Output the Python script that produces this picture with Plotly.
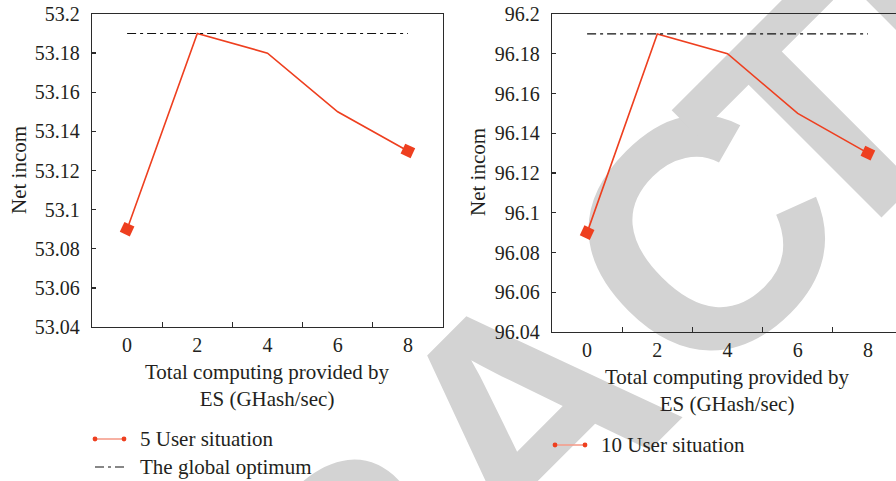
import plotly.graph_objects as go

# ---- data -------------------------------------------------------------
compute_es = [0, 2, 4, 6, 8]                      # GHash/sec provided by the ES
income_5_users = [53.09, 53.19, 53.18, 53.15, 53.13]
income_10_users = [96.09, 96.19, 96.18, 96.15, 96.13]
optimum_5_users = 53.19
optimum_10_users = 96.19

x_tick_vals = [0, 2, 4, 6, 8]
x_minor_ticks = [1, 3, 5, 7]
y_ticks_5 = [53.04, 53.06, 53.08, 53.10, 53.12, 53.14, 53.16, 53.18, 53.20]
y_ticks_10 = [96.04, 96.06, 96.08, 96.10, 96.12, 96.14, 96.16, 96.18, 96.20]
y_text_5 = ["53.04", "53.06", "53.08", "53.1", "53.12", "53.14", "53.16", "53.18", "53.2"]
y_text_10 = ["96.04", "96.06", "96.08", "96.1", "96.12", "96.14", "96.16", "96.18", "96.2"]

legend_5 = "5 User situation"
legend_10 = "10 User situation"
legend_opt = "The global optimum"
x_title = "Total computing provided by<br>ES (GHash/sec)"
y_title = "Net incom"
stamp = "RETRACTED"

# ---- style ------------------------------------------------------------
W, H = 896, 481
RED = "#ee3f1f"
RED_LIGHT = "#f59d8c"
INK = "#231f20"
AXIS = "#2b2b2b"
STAMP_GREY = "#d3d3d3"
SERIF = "Liberation Serif"
DASH = "9px,4px,3px,4px"


def px(x):
    return x / W


def py(y):
    return 1 - y / H


fig = go.Figure()


def end_marker_sizes(n, size=11):
    return [size if i in (0, n - 1) else 0 for i in range(n)]


# series traces
for xa, ya, vals, opt in (("x", "y", income_5_users, optimum_5_users),
                          ("x2", "y2", income_10_users, optimum_10_users)):
    fig.add_trace(go.Scatter(
        x=compute_es, y=vals, xaxis=xa, yaxis=ya, mode="lines+markers",
        line=dict(color=RED, width=1.6),
        marker=dict(symbol="square", size=end_marker_sizes(len(vals)),
                    color=RED, opacity=1, angle=25, line=dict(width=0)),
        showlegend=False, hoverinfo="skip"))
    fig.add_trace(go.Scatter(
        x=[compute_es[0], compute_es[-1]], y=[opt, opt], xaxis=xa, yaxis=ya,
        mode="lines", line=dict(color="#111111", width=1.1, dash=DASH),
        showlegend=False, hoverinfo="skip"))

# ---- axes -------------------------------------------------------------
tick_font = dict(family=SERIF, size=20, color=INK)


def x_axis(domain, right_end):
    return dict(domain=domain, range=[-1, right_end], showgrid=False, zeroline=False,
                automargin=False, tickvals=x_tick_vals, ticks="", tickfont=tick_font,
                showline=True, linecolor=AXIS, linewidth=1.3, mirror=True,
                minor=dict(tickvals=x_minor_ticks, ticks="inside", ticklen=5,
                           tickwidth=1.3, tickcolor=AXIS, showgrid=False),
                ticklabelstandoff=0, fixedrange=True)


def y_axis(domain, lo, hi, vals, text, mirror):
    return dict(domain=domain, range=[lo, hi], showgrid=False, zeroline=False,
                automargin=False, tickvals=vals, ticktext=text, ticks="inside",
                ticklen=4, tickwidth=1.3, tickcolor=AXIS, tickfont=tick_font,
                showline=True, linecolor=AXIS, linewidth=1.3, mirror=mirror,
                ticklabelstandoff=7, fixedrange=True)


left_x = (92, 443)
right_x = (552, 896)
unit = (left_x[1] - left_x[0]) / 10.0

fig.update_layout(
    xaxis=x_axis([px(left_x[0]), px(left_x[1])], 9),
    yaxis=y_axis([py(327), py(14)], y_ticks_5[0], y_ticks_5[-1], y_ticks_5, y_text_5, True),
    xaxis2=dict(x_axis([px(right_x[0]), 1.0], -1 + (right_x[1] - right_x[0]) / unit),
                anchor="y2"),
    yaxis2=dict(y_axis([py(332), py(14)], y_ticks_10[0], y_ticks_10[-1], y_ticks_10,
                       y_text_10, False), anchor="x2"),
)

annotations = []

# diagonal stamp, one glyph per annotation along a 45 degree line
# (u = x - y position of each glyph centre along the line x + y = const)
stamp_u = [-1145, -825, -530, -223, 110, 465, 697, 988, 1308]
stamp_line = 940
for ch, u in zip(stamp, stamp_u):
    cx = (stamp_line + u) / 2
    cy = (stamp_line - u) / 2
    annotations.append(dict(
        text=ch, x=px(cx), y=py(cy), xref="paper", yref="paper",
        xanchor="center", yanchor="middle", textangle=-45, showarrow=False,
        font=dict(family="Liberation Sans", size=326, color=STAMP_GREY, weight="bold")))

title_font = dict(family=SERIF, size=21, color=INK)
for xa, yc_title, x_ylab, yc_ylab in (("x", 385.5, 19, 170), ("x2", 390.5, 478, 172)):
    annotations.append(dict(text=x_title, x=4, xref=xa, y=py(yc_title), yref="paper",
                            xanchor="center", yanchor="middle", showarrow=False,
                            font=title_font, align="center"))
    annotations.append(dict(text=y_title, x=px(x_ylab), y=py(yc_ylab), xref="paper",
                            yref="paper", xanchor="center", yanchor="middle",
                            textangle=-90, showarrow=False, font=title_font))

# hand-drawn legend entries
shapes = []


def series_key(x0, x1, y, label):
    shapes.append(dict(type="line", xref="paper", yref="paper", layer="above",
                       x0=px(x0), x1=px(x1), y0=py(y), y1=py(y),
                       line=dict(color=RED_LIGHT, width=1.6)))
    r = 2.4
    for xc in (x0, x1):
        shapes.append(dict(type="circle", xref="paper", yref="paper", layer="above",
                           x0=px(xc - r), x1=px(xc + r), y0=py(y + r), y1=py(y - r),
                           fillcolor=RED, line=dict(width=0)))
    annotations.append(dict(text=label, x=px(x1 + 14), y=py(y), xref="paper", yref="paper",
                            xanchor="left", yanchor="middle", showarrow=False,
                            font=title_font))


series_key(95, 124, 439, legend_5)
series_key(555, 585, 445, legend_10)
shapes.append(dict(type="line", xref="paper", yref="paper", layer="above",
                   x0=px(95), x1=px(124), y0=py(467), y1=py(467),
                   line=dict(color="#111111", width=1.1, dash=DASH)))
annotations.append(dict(text=legend_opt, x=px(138), y=py(467), xref="paper", yref="paper",
                        xanchor="left", yanchor="middle", showarrow=False, font=title_font))

fig.update_layout(
    width=W, height=H, margin=dict(l=0, r=0, t=0, b=0, autoexpand=False),
    font=dict(family=SERIF, color=INK),
    paper_bgcolor="white", plot_bgcolor="rgba(0,0,0,0)",
    showlegend=False, annotations=annotations, shapes=shapes,
)

# draw the stamp glyphs underneath the data layer
stamp_below = """
var gd = document.getElementById('{plot_id}');
var below = gd.querySelector('.main-svg .layer-below');
gd.querySelectorAll('.annotation').forEach(function (a) {
    if (a.textContent.trim().length === 1) { below.appendChild(a); }
});
"""

fig.write_html("out.html", post_script=stamp_below, config={"staticPlot": True})
